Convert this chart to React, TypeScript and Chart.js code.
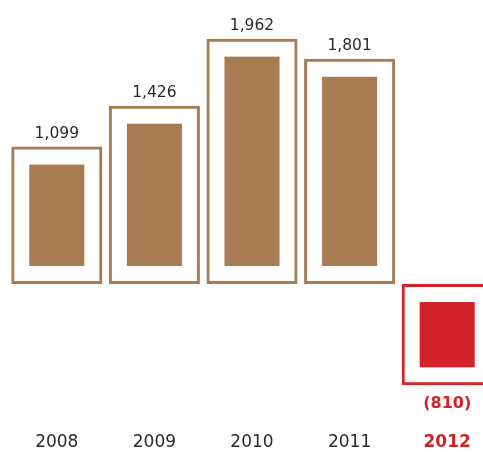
import React, { useEffect, useRef } from "react";
import { Chart, registerables } from "chart.js";

Chart.register(...registerables);

const years = ["2008", "2009", "2010", "2011", "2012"];
const netIncome = [1099, 1426, 1962, 1801, -810];
const valueLabels = ["1,099", "1,426", "1,962", "1,801", "(810)"];

const BROWN = "#a87c52";
const RED = "#d2232a";
const INK = "#2a2a2a";
const FONT = "'DejaVu Sans', sans-serif";

const colorFor = (v: number) => (v < 0 ? RED : BROWN);

// Solid block inset inside each framed bar, plus the value label
const innerBlocks = {
  id: "innerBlocks",
  afterDatasetsDraw(chart: any) {
    const { ctx } = chart;
    const meta = chart.getDatasetMeta(0);
    const inset = 18;
    meta.data.forEach((bar: any, i: number) => {
      const { x, y, base, width } = bar.getProps(["x", "y", "base", "width"], true);
      const top = Math.min(y, base);
      const bottom = Math.max(y, base);
      const v = netIncome[i];
      ctx.save();
      ctx.fillStyle = colorFor(v);
      ctx.fillRect(x - width / 2 + inset, top + inset, width - inset * 2, bottom - top - inset * 2);
      ctx.textAlign = "center";
      ctx.textBaseline = "alphabetic";
      if (v >= 0) {
        ctx.fillStyle = INK;
        ctx.font = `15.5px ${FONT}`;
        ctx.fillText(valueLabels[i], x, top - 9);
      } else {
        ctx.fillStyle = RED;
        ctx.font = `bold 16px ${FONT}`;
        ctx.fillText(valueLabels[i], x, bottom + 23);
      }
      ctx.restore();
    });
  },
};

export default function App() {
  const canvasRef = useRef<HTMLCanvasElement | null>(null);

  useEffect(() => {
    if (!canvasRef.current) return;
    const chart = new Chart(canvasRef.current, {
      type: "bar",
      data: {
        labels: years,
        datasets: [
          {
            data: netIncome,
            backgroundColor: "rgba(0,0,0,0)",
            borderColor: netIncome.map(colorFor),
            borderWidth: 3,
            borderSkipped: false,
            barPercentage: 0.933,
            categoryPercentage: 1,
          },
        ],
      },
      options: {
        responsive: false,
        animation: false,
        devicePixelRatio: 1,
        layout: { padding: 0 },
        plugins: {
          legend: { display: false },
          tooltip: { enabled: false },
        },
        scales: {
          x: {
            grid: { display: false, drawTicks: false },
            border: { display: false },
            ticks: {
              padding: 9,
              font: (ctx: any) => ({
                family: FONT,
                size: 17,
                weight: netIncome[ctx.index] < 0 ? "bold" : "normal",
              }),
              color: (ctx: any) => (netIncome[ctx.index] < 0 ? RED : INK),
            },
          },
          y: {
            display: false,
            min: -1116,
            max: 2207,
          },
        },
      },
      plugins: [innerBlocks],
    });
    return () => chart.destroy();
  }, []);

  return (
    <div
      style={{
        position: "fixed",
        left: 0,
        top: 0,
        width: 483,
        height: 454,
        overflow: "hidden",
      }}
    >
      <canvas
        ref={canvasRef}
        width={488}
        height={454}
        style={{ display: "block", marginLeft: 8, marginTop: 8 }}
      />
    </div>
  );
}
